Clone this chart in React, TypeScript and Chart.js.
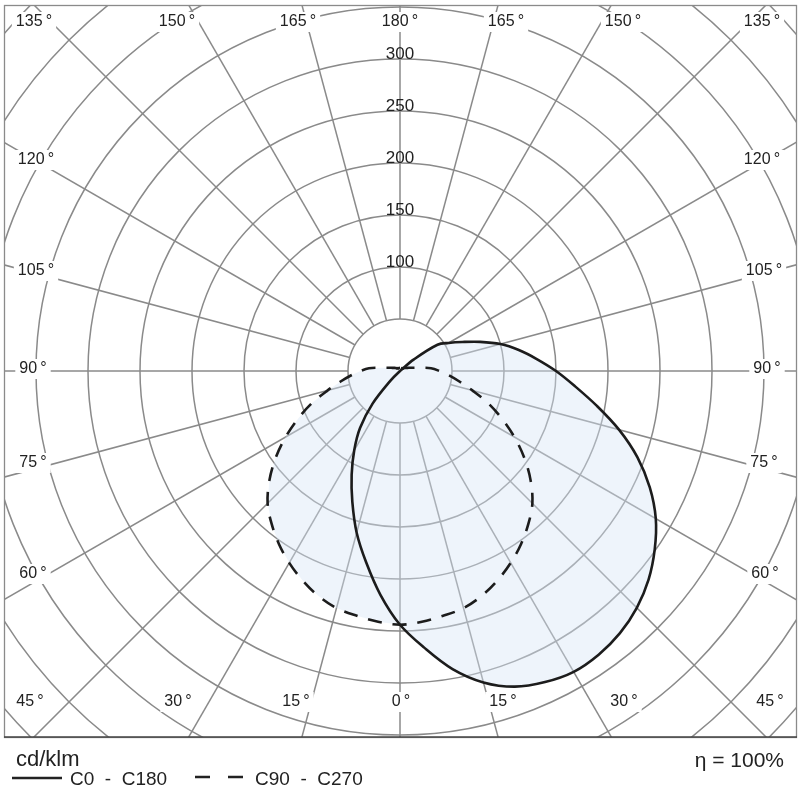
import React, { useEffect, useRef } from "react";
import { Chart, registerables } from "chart.js";

Chart.register(...registerables);

// ---- data (cd/klm) ----
const gammaAngles = [0, 5, 10, 15, 20, 25, 30, 35, 40, 45, 50, 55, 60, 65, 70, 75, 80, 85, 90, 95, 100, 105, 110, 115, 120, 125, 130, 135, 140, 145, 150, 155, 160, 165, 170, 175, 180];
const c0Values = [244, 267, 291, 310, 323, 330, 334, 333, 329, 322, 312, 299, 284, 265, 243, 218, 192, 169, 150, 132, 116, 100, 82, 66, 54, 44, 17, 0, 0, 0, 0, 0, 0, 0, 0, 0, 0];
const c180Values = [244, 216, 187, 161, 134, 110, 88, 67, 41, 12, 0, 0, 0, 0, 0, 0, 0, 0, 0, 0, 0, 0, 0, 0, 0, 0, 0, 0, 0, 0, 0, 0, 0, 0, 0, 0, 0];
const c90Values = [244, 242, 239, 236, 230, 222, 213, 203, 192, 180, 164, 146, 127, 108, 90, 72, 58, 47, 38, 30, 18, 12, 9, 7, 6, 5, 4, 4, 3, 3, 3, 3, 3, 3, 3, 3, 3];
const c270Values = [244, 242, 239, 236, 230, 222, 213, 203, 192, 180, 164, 146, 127, 108, 90, 72, 58, 47, 38, 30, 18, 12, 9, 7, 6, 5, 4, 4, 3, 3, 3, 3, 3, 3, 3, 3, 3];

const ringValues = [50, 100, 150, 200, 250, 300, 350, 400, 450, 500, 550, 600];
const ringLabelValues = [100, 150, 200, 250, 300];
const spokeAngles = [0, 15, 30, 45, 60, 75, 90, 105, 120, 135, 150, 165, 180, 195, 210, 225, 240, 255, 270, 285, 300, 315, 330, 345];
const angleLabels = ["0°", "15°", "30°", "45°", "60°", "75°", "90°", "105°", "120°", "135°", "150°", "165°", "180°"];

const unitLabel = "cd/klm";
const legendSolid = "C0  -  C180";
const legendDashed = "C90  -  C270";
const efficiencyLabel = "η = 100%";

// ---- layout ----
const FRAME = { left: 4, top: 5, right: 797, bottom: 737 };
const CENTER = { x: 400, y: 371 };
const PX_PER_UNIT = 1.04;
// label anchor positions [left-side, right-side] for each label (index matches angleLabels)
const labelPos: Array<Array<[number, number]>> = [
  [[401, 702]],
  [[296, 702], [503, 702]],
  [[178, 702], [624, 702]],
  [[30, 702], [770, 702]],
  [[33, 574], [765, 574]],
  [[33, 463], [764, 463]],
  [[33, 369], [767, 369]],
  [[36, 271], [764, 271]],
  [[36, 160], [762, 160]],
  [[34, 22], [762, 22]],
  [[177, 22], [623, 22]],
  [[298, 22], [506, 22]],
  [[400, 22]],
];

const FONT = "'Liberation Sans', Arial, sans-serif";

function toXY(gamma: number, r: number, sign: number) {
  const a = (gamma * Math.PI) / 180;
  return { x: sign * r * Math.sin(a), y: -r * Math.cos(a) };
}

function buildCurve(leftVals: number[], rightVals: number[]) {
  const pts: { x: number; y: number }[] = [];
  for (let i = gammaAngles.length - 1; i >= 0; i--) pts.push(toXY(gammaAngles[i], leftVals[i], -1));
  for (let i = 1; i < gammaAngles.length; i++) pts.push(toXY(gammaAngles[i], rightVals[i], 1));
  const out: { x: number; y: number }[] = [];
  for (const p of pts) {
    const last = out[out.length - 1];
    if (last && Math.abs(last.x - p.x) < 1e-6 && Math.abs(last.y - p.y) < 1e-6) continue;
    out.push(p);
  }
  return out;
}

const polarGrid = {
  id: "polarGrid",
  beforeDatasetsDraw(chart: any) {
    const { ctx, chartArea } = chart;
    const xs = chart.scales.x;
    const ys = chart.scales.y;
    const cx = xs.getPixelForValue(0);
    const cy = ys.getPixelForValue(0);
    const k = xs.getPixelForValue(1) - cx;
    ctx.save();
    ctx.fillStyle = "#ffffff";
    ctx.fillRect(0, 0, chart.width, chart.height);
    ctx.beginPath();
    ctx.rect(chartArea.left, chartArea.top, chartArea.right - chartArea.left, chartArea.bottom - chartArea.top);
    ctx.clip();
    ctx.strokeStyle = "#8a8a8a";
    ctx.lineWidth = 1.5;
    for (const r of ringValues) {
      ctx.beginPath();
      ctx.arc(cx, cy, r * k, 0, Math.PI * 2);
      ctx.stroke();
    }
    for (const g of spokeAngles) {
      const a = (g * Math.PI) / 180;
      const sx = Math.sin(a), sy = Math.cos(a);
      ctx.beginPath();
      ctx.moveTo(cx + sx * 50 * k, cy + sy * 50 * k);
      ctx.lineTo(cx + sx * 700 * k, cy + sy * 700 * k);
      ctx.stroke();
    }
    // ring value labels
    ctx.fillStyle = "#222";
    ctx.font = `17px ${FONT}`;
    ctx.textAlign = "center";
    ctx.textBaseline = "middle";
    for (const v of ringLabelValues) {
      ctx.fillText(String(v), cx, ys.getPixelForValue(v) - 5);
    }
    // angle labels with white boxes
    ctx.font = `16px ${FONT}`;
    labelPos.forEach((list, i) => {
      const t = angleLabels[i].replace("°", "\u2009°");
      const w = ctx.measureText(t).width;
      for (const [lx, ly] of list) {
        ctx.fillStyle = "#ffffff";
        ctx.fillRect(lx - w / 2 - 4, ly - 10, w + 8, 20);
        ctx.fillStyle = "#222";
        ctx.fillText(t, lx, ly);
      }
    });
    // union fill of both curves
    ctx.beginPath();
    for (let d = 0; d < chart.data.datasets.length; d++) {
      const meta = chart.getDatasetMeta(d);
      const pts = meta.data;
      pts.forEach((p: any, j: number) => {
        if (j === 0) ctx.moveTo(p.x, p.y);
        else ctx.lineTo(p.x, p.y);
      });
      ctx.closePath();
    }
    ctx.fillStyle = "rgba(214, 228, 246, 0.42)";
    ctx.fill("nonzero");
    ctx.restore();
  },
  afterDraw(chart: any) {
    const { ctx } = chart;
    ctx.save();
    ctx.strokeStyle = "#8a8a8a";
    ctx.lineWidth = 1.3;
    ctx.strokeRect(FRAME.left + 0.5, FRAME.top + 0.5, FRAME.right - FRAME.left - 1, FRAME.bottom - FRAME.top);
    ctx.strokeStyle = "#444";
    ctx.lineWidth = 1.6;
    ctx.beginPath();
    ctx.moveTo(FRAME.left, FRAME.bottom);
    ctx.lineTo(FRAME.right, FRAME.bottom);
    ctx.stroke();

    ctx.fillStyle = "#222";
    ctx.textBaseline = "middle";
    ctx.textAlign = "left";
    ctx.font = `22px ${FONT}`;
    ctx.fillText(unitLabel, 16, 760);
    ctx.font = `19px ${FONT}`;
    ctx.fillText(legendSolid, 70, 780);
    ctx.fillText(legendDashed, 255, 780);
    ctx.strokeStyle = "#222";
    ctx.lineWidth = 2.5;
    ctx.beginPath();
    ctx.moveTo(12, 778);
    ctx.lineTo(62, 778);
    ctx.stroke();
    ctx.beginPath();
    ctx.moveTo(195, 777);
    ctx.lineTo(210, 777);
    ctx.moveTo(228, 777);
    ctx.lineTo(243, 777);
    ctx.stroke();
    ctx.textAlign = "right";
    ctx.font = `21px ${FONT}`;
    ctx.fillText(efficiencyLabel, 784, 761);
    ctx.restore();
  },
};

export default function App() {
  const ref = useRef<HTMLCanvasElement>(null);
  useEffect(() => {
    if (!ref.current) return;
    const solid = buildCurve(c180Values, c0Values);
    const dashed = buildCurve(c270Values, c90Values);
    const chart = new Chart(ref.current, {
      type: "line",
      data: {
        datasets: [
          {
            label: legendSolid,
            data: solid,
            borderColor: "#1c1c1c",
            borderWidth: 2.6,
            pointRadius: 0,
            tension: 0.35,
            fill: false,
          },
          {
            label: legendDashed,
            data: dashed,
            borderColor: "#1c1c1c",
            borderWidth: 2.6,
            borderDash: [14, 11],
            pointRadius: 0,
            tension: 0.35,
            fill: false,
          },
        ],
      },
      options: {
        responsive: false,
        maintainAspectRatio: false,
        animation: false,
        devicePixelRatio: 1,
        layout: {
          padding: { left: FRAME.left, top: FRAME.top, right: 800 - FRAME.right, bottom: 800 - FRAME.bottom },
        },
        scales: {
          x: {
            type: "linear",
            display: false,
            min: (FRAME.left - CENTER.x) / PX_PER_UNIT,
            max: (FRAME.right - CENTER.x) / PX_PER_UNIT,
          },
          y: {
            type: "linear",
            display: false,
            min: -(FRAME.bottom - CENTER.y) / PX_PER_UNIT,
            max: (CENTER.y - FRAME.top) / PX_PER_UNIT,
          },
        },
        plugins: {
          legend: { display: false },
          tooltip: { enabled: false },
        },
      },
      plugins: [polarGrid],
    });
    return () => chart.destroy();
  }, []);
  return (
    <div style={{ position: "fixed", left: 0, top: 0, width: 800, height: 800, background: "#fff" }}>
      <canvas ref={ref} width={800} height={800} style={{ display: "block", width: 800, height: 800 }} />
    </div>
  );
}
